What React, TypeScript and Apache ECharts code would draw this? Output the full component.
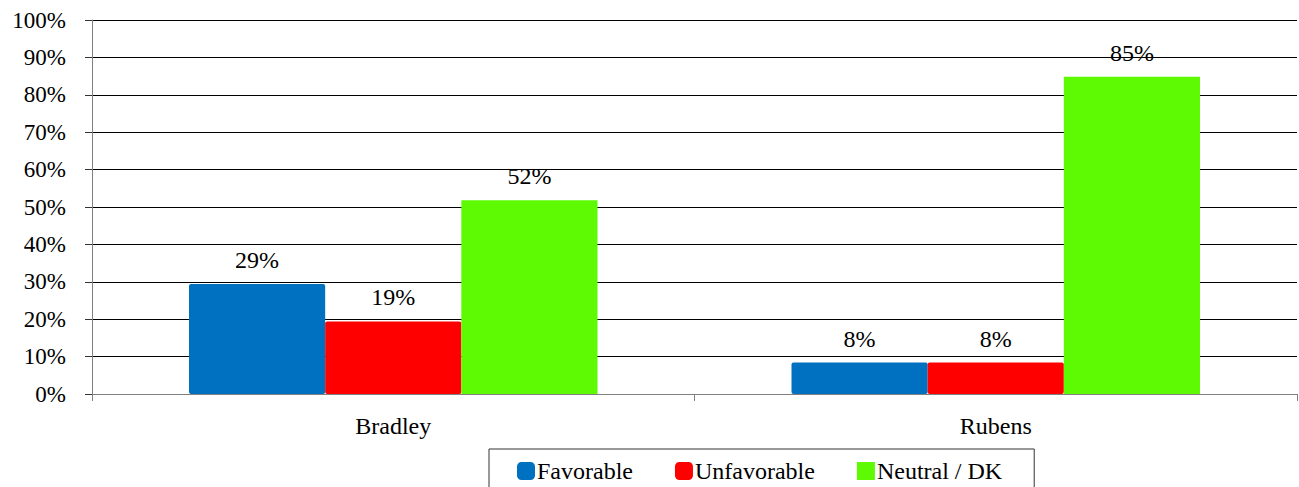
import React, { useEffect, useRef } from "react";
import * as echarts from "echarts";

const categories = ["Bradley", "Rubens"];
const seriesNames = ["Favorable", "Unfavorable", "Neutral / DK"];
const favorable = [29.4, 8.4];
const unfavorable = [19.4, 8.4];
const neutral = [51.8, 84.8];
const colors = ["#0070C0", "#FF0000", "#5EFA04"];
const yTicks = { min: 0, max: 100, interval: 10 };

const FONT = "Liberation Serif, Times New Roman, serif";

export default function App() {
  const ref = useRef<HTMLDivElement>(null);
  useEffect(() => {
    if (!ref.current) return;
    const chart = echarts.init(ref.current, null, { renderer: "svg" });
    const values = [favorable, unfavorable, neutral];
    const ts = (size: number) => ({
      fontFamily: FONT,
      fontSize: size,
      fontWeight: "normal",
      color: "#000",
    });
    chart.setOption({
      animation: false,
      backgroundColor: "#ffffff",
      textStyle: ts(24),
      grid: { left: 92, right: 2, top: 20, bottom: 93, containLabel: false },
      legend: {
        show: true,
        left: 489,
        top: 449,
        data: seriesNames.map((n, i) => ({
          name: n,
          icon: i === 2 ? "rect" : "roundRect",
        })),
        itemWidth: 18,
        itemHeight: 18,
        itemGap: 42,
        padding: [10, 32, 14, 28],
        borderColor: "#333333",
        borderWidth: 1,
        textStyle: { ...ts(24), padding: [0, 0, 0, -3] },
      },
      xAxis: {
        type: "category",
        data: categories,
        axisLine: { show: true, lineStyle: { color: "#808080", width: 1 } },
        axisTick: { show: true, length: 7, lineStyle: { color: "#808080" } },
        axisLabel: { ...ts(24), margin: 20 },
      },
      yAxis: {
        type: "value",
        min: yTicks.min,
        max: yTicks.max,
        interval: yTicks.interval,
        axisLine: { show: true, lineStyle: { color: "#808080", width: 1 } },
        axisTick: { show: true, length: 7, lineStyle: { color: "#333" } },
        splitLine: { show: true, lineStyle: { color: "#000", width: 1 } },
        axisLabel: {
          ...ts(23),
          margin: 26,
          formatter: "{value}%",
        },
      },
      series: seriesNames.map((name, i) => ({
        name,
        type: "bar",
        data: values[i],
        barWidth: "22.6%",
        barGap: "0%",
        itemStyle: {
          color: colors[i],
          borderRadius: i === 2 ? 0 : 2,
        },
        label: {
          show: true,
          position: "top",
          distance: 12,
          ...ts(24),
          formatter: (p: any) => `${Math.round(p.value)}%`,
        },
      })),
    });
    return () => chart.dispose();
  }, []);
  return (
    <div
      ref={ref}
      style={{ position: "fixed", left: 0, top: 0, width: 1299, height: 487 }}
    />
  );
}
